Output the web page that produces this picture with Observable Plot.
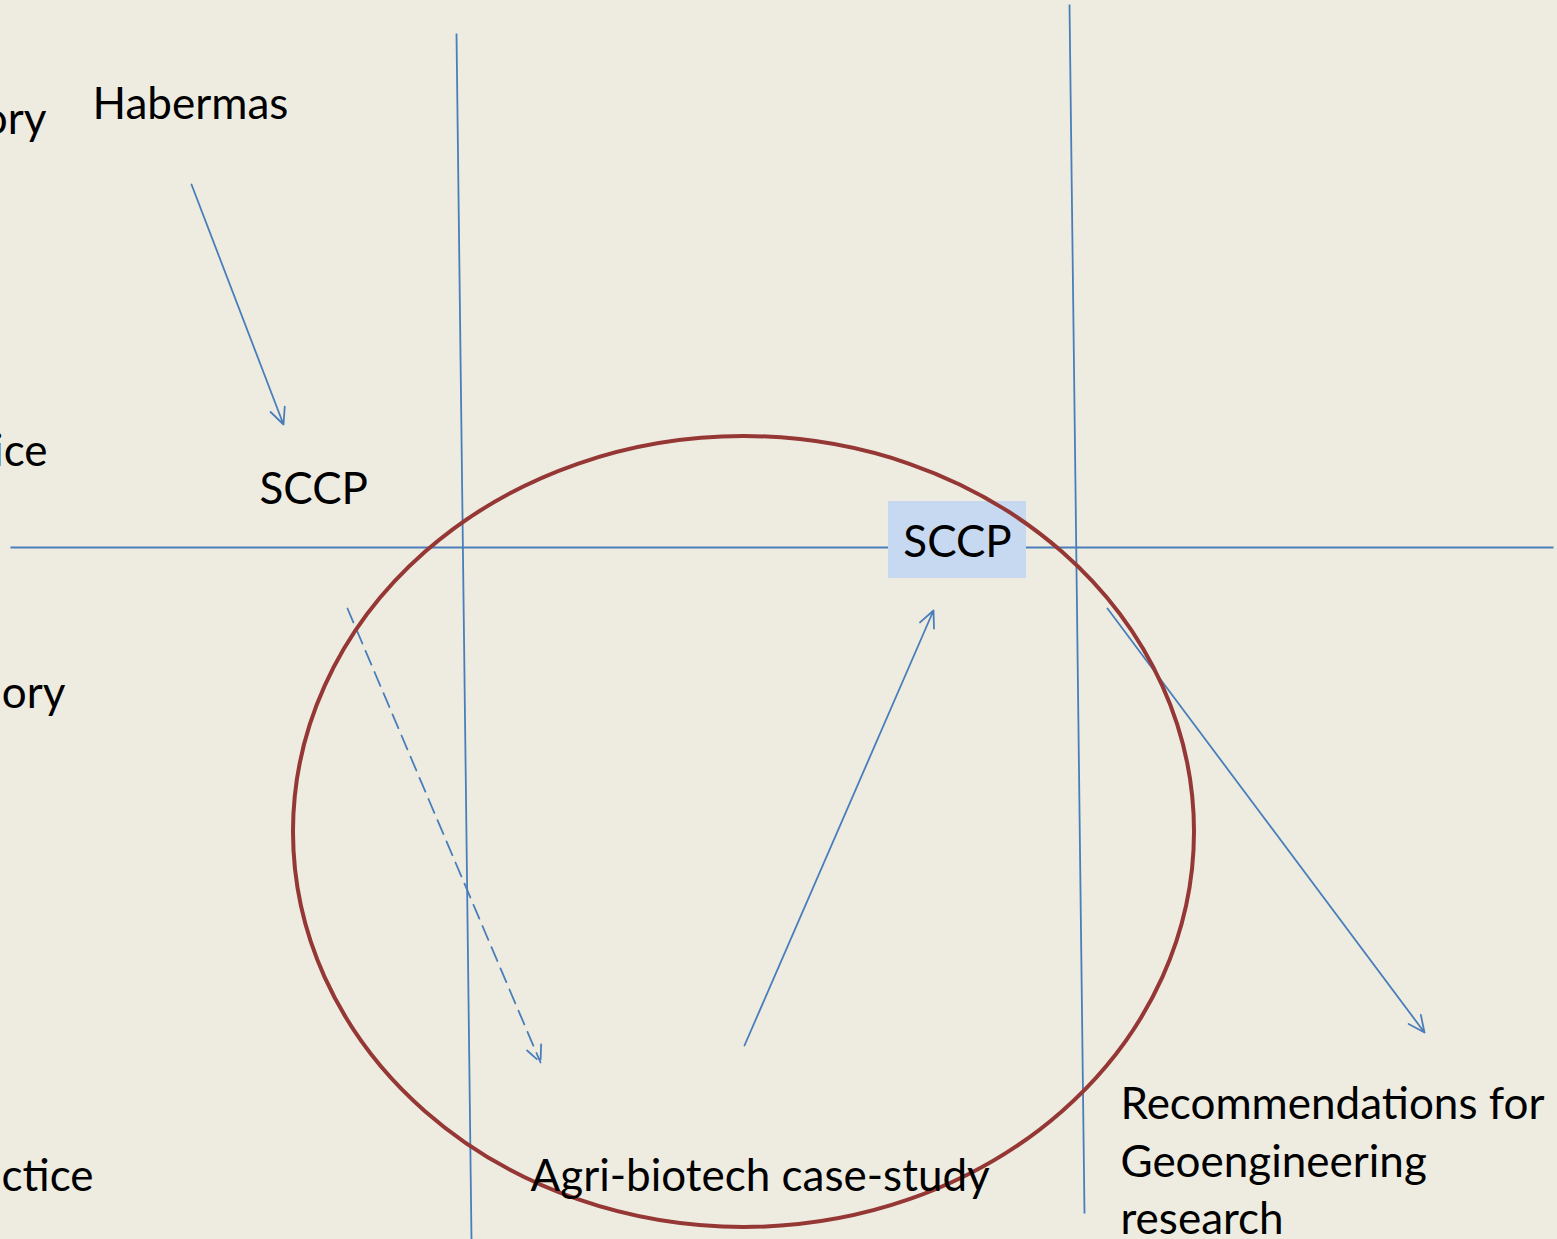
<!DOCTYPE html>
<html><head><meta charset="utf-8">
<script src="https://cdn.jsdelivr.net/npm/d3@7"></script>
<script src="https://cdn.jsdelivr.net/npm/@observablehq/plot@0.6"></script>
<style>
html,body{margin:0;padding:0;background:#EEECE1;overflow:hidden;}
</style>
</head><body><div id="chart"></div>
<script>
// Diagram coordinates (canvas units, origin top-left)
const lineIds = ["horizontal", "vertical-left", "vertical-right"];
const lineX1 = [10, 456, 1069];
const lineY1 = [547, 33, 4];
const lineX2 = [1553, 471, 1084];
const lineY2 = [547, 1239, 1213];

const arrowIds = ["habermas-sccp", "theory-case", "case-sccp", "sccp-recs"];
const arrowX1 = [191, 347, 744, 1107];
const arrowY1 = [184, 608, 1045, 608];
const arrowX2 = [283, 540, 933, 1424];
const arrowY2 = [424, 1062, 610, 1032];
const arrowDashed = [false, true, false, false];

const ellipseBox = {x1: 293, x2: 1194, y1: 436, y2: 1227};
const boxX1 = [888], boxX2 = [1026], boxY1 = [501], boxY2 = [578];

const labels = ["ory", "Habermas", "ice", "SCCP", "SCCP", "ory", "ctice",
  "Agri-biotech case-study", "Recommendations for", "Geoengineering", "research"];
const labelX = [46, 92, 47, 259, 957, 65, 93, 530, 1120, 1120, 1120];
const labelY = [133, 118, 465, 503, 556, 707, 1190, 1190, 1118, 1176, 1233];
const labelAnchor = ["end","start","end","start","middle","end","end","start","start","start","start"];

const lines = lineIds.map((id, i) => ({id, x1: lineX1[i], y1: lineY1[i], x2: lineX2[i], y2: lineY2[i]}));
const arrows = arrowIds.map((id, i) => ({id, x1: arrowX1[i], y1: arrowY1[i], x2: arrowX2[i], y2: arrowY2[i], dashed: arrowDashed[i]}));
const boxes = boxX1.map((x, i) => ({x1: x, x2: boxX2[i], y1: boxY1[i], y2: boxY2[i]}));
const texts = labels.map((t, i) => ({t, x: labelX[i], y: labelY[i], a: labelAnchor[i]}));

const W = 1557, H = 1239;
const blue = "#4A7EBB";
const font = "Lato, 'Open Sans', sans-serif";

const chart = Plot.plot({
  width: W, height: H,
  margin: 0,
  x: {domain: [0, W], range: [0, W], axis: null},
  y: {domain: [0, H], range: [0, H], axis: null},
  style: {background: "#EEECE1", fontFamily: font, overflow: "hidden"},
  marks: [
    Plot.link(lines, {x1: "x1", y1: "y1", x2: "x2", y2: "y2", stroke: blue, strokeWidth: 1.8}),
    Plot.rect(boxes, {x1: "x1", x2: "x2", y1: "y1", y2: "y2", fill: "#C6D9F1"}),
    Plot.arrow(arrows.filter(d => !d.dashed), {x1: "x1", y1: "y1", x2: "x2", y2: "y2", stroke: blue, strokeWidth: 1.8, headLength: 15, headAngle: 50}),
    Plot.arrow(arrows.filter(d => d.dashed), {x1: "x1", y1: "y1", x2: "x2", y2: "y2", stroke: blue, strokeWidth: 1.8, headLength: 15, headAngle: 50, strokeDasharray: "15,8"}),
    Plot.rect([ellipseBox], {x1: "x1", x2: "x2", y1: "y1", y2: "y2", fill: "none", stroke: "#953735", strokeWidth: 4, rx: 451, ry: 396}),
    ...["start", "middle", "end"].map(a => Plot.text(texts.filter(d => d.a === a), {
      x: "x", y: "y", text: "t", textAnchor: a, lineAnchor: "bottom",
      fontSize: 44, fill: "#000", fontFamily: font
    }))
  ]
});
document.getElementById("chart").appendChild(chart);
</script>
</body></html>
